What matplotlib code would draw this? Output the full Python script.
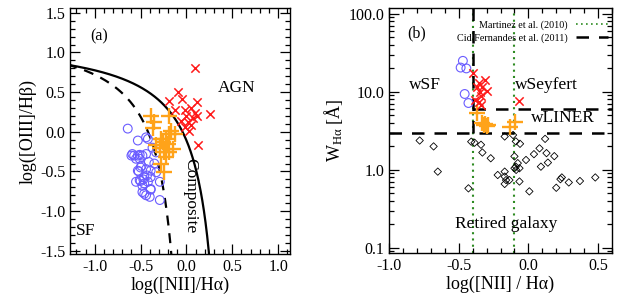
import matplotlib
matplotlib.use('Agg')
from matplotlib import pyplot as plt
from matplotlib.ticker import MultipleLocator, FixedLocator, FuncFormatter, LogLocator, NullFormatter
import numpy as np

plt.rcParams['font.family'] = ['Liberation Serif', 'DejaVu Serif']
plt.rcParams['mathtext.fontset'] = 'custom'
plt.rcParams['mathtext.rm'] = 'Liberation Serif'
plt.rcParams['mathtext.it'] = 'Liberation Serif:italic'

# ---- panel (a): BPT diagram ----
agn_n2 = [0.09, -0.09, -0.19, -0.05, -0.13, -0.02, 0.05, 0.11, 0.0, 0.07, 0.12, -0.06,
          0.02, -0.02, 0.05, 0.26, 0.13, 0.09, 0.03]
agn_o3 = [0.81, 0.50, 0.39, 0.41, 0.28, 0.28, 0.30, 0.37, 0.20, 0.18, 0.20, 0.14,
          0.12, 0.06, 0.08, 0.22, -0.17, 0.24, 0.01]

comp_n2 = [-0.39, -0.19, -0.35, -0.37, -0.17, -0.19, -0.13, -0.28, -0.22, -0.26, -0.20,
           -0.29, -0.15, -0.24, -0.19, -0.22, -0.28, -0.24, -0.33]
comp_o3 = [0.20, 0.20, 0.12, 0.05, 0.01, -0.03, -0.03, -0.09, -0.09, -0.13, -0.15,
           -0.20, -0.22, -0.26, -0.26, -0.32, -0.40, -0.51, -0.17]

sf_n2 = [-0.64, -0.53, -0.42, -0.37, -0.59, -0.53, -0.48, -0.51, -0.44, -0.41, -0.33,
         -0.49, -0.44, -0.39, -0.53, -0.33, -0.46, -0.39, -0.51, -0.42, -0.48, -0.29,
         -0.46, -0.39, -0.29, -0.40, -0.44, -0.51, -0.60, -0.55, -0.50, -0.55, -0.46,
         -0.48, -0.39, -0.44, -0.52, -0.35, -0.47, -0.50, -0.43, -0.57]
sf_o3 = [0.04, -0.11, -0.09, -0.20, -0.28, -0.30, -0.30, -0.34, -0.28, -0.38, -0.26,
         -0.43, -0.47, -0.49, -0.49, -0.51, -0.57, -0.57, -0.61, -0.63, -0.68, -0.63,
         -0.78, -0.72, -0.86, -0.82, -0.07, -0.29, -0.30, -0.34, -0.45, -0.63, -0.65,
         -0.76, -0.73, -0.80, -0.50, -0.40, -0.60, -0.62, -0.55, -0.30]

# demarcation lines: log([OIII]/Hb) = a / (log([NII]/Ha) - b) + c
kewley_abc = (0.61, 0.47, 1.19)
kauffmann_abc = (0.61, 0.05, 1.30)

# ---- panel (b): WHAN diagram ----
wsf_n2 = [-0.47, -0.486, -0.445, -0.457, -0.43]
wsf_w = [25.0, 20.5, 20.0, 9.4, 7.2]

wsey_n2 = [-0.40, -0.355, -0.31, -0.37, -0.33, -0.295, -0.35, -0.34, -0.38, -0.355,
           -0.34, -0.064]
wsey_w = [17.5, 13.1, 14.0, 11.7, 11.4, 10.4, 10.1, 8.9, 7.9, 7.5, 6.8, 7.6]

wlin_n2 = [-0.37, -0.335, -0.32, -0.31, -0.30, -0.29, -0.13, -0.095]
wlin_w = [5.3, 4.0, 3.8, 3.9, 3.7, 3.75, 3.5, 4.1]

ret_n2 = [-0.78, -0.68, -0.65, -0.43, -0.41, -0.386, -0.34, -0.33, -0.27, -0.22, -0.17,
          -0.17, -0.16, -0.17, -0.136, -0.17, -0.11, -0.09, -0.06, -0.10, -0.076, -0.088,
          -0.064, -0.064, 0.007, -0.017, 0.04, 0.08, 0.09, 0.12, 0.13, 0.14, 0.186, 0.20,
          0.24, 0.23, 0.29, 0.37, 0.48, -0.09, -0.10]
ret_w = [2.38, 2.0, 0.95, 0.58, 2.3, 2.23, 2.1, 1.67, 1.41, 0.86, 0.95, 0.82, 0.74, 0.66,
         0.74, 2.68, 2.8, 2.32, 2.16, 1.49, 1.22, 1.0, 1.05, 0.71, 0.53, 1.34, 1.59, 1.89,
         1.1, 2.5, 1.64, 1.24, 1.5, 0.59, 0.80, 0.76, 0.69, 0.72, 0.80, 1.1, 1.05]

martinez_cuts = [-0.4, -0.1]
cid_n2_cut = -0.4
cid_w_weak = 3.0
cid_w_strong = 6.0

red = '#ff1a1a'
orange = '#ffa31a'
blue = '#6a5cff'
green = '#2e8b22'


def style_axes(ax):
	ax.tick_params(which='both', direction='in', top=True, right=True, labelsize=11.5, width=0.9)
	ax.tick_params(which='major', length=7)
	ax.tick_params(which='minor', length=3.5)
	for s in ax.spines.values():
		s.set_linewidth(1.0)


fig = plt.figure(figsize=(6.38, 3.0), dpi=100)

# ---------------- (a) ----------------
ax1 = fig.add_axes([70/638, 46/300, 220/638, 246/300])
ax1.set_xlim(-1.27, 1.13)
ax1.set_ylim(-1.54, 1.56)

xk = np.linspace(-1.3, kewley_abc[1] - 0.01, 400)
a, b, c = kewley_abc
ax1.plot(xk, a / (xk - b) + c, color='black', lw=1.6)
xf = np.linspace(-1.3, kauffmann_abc[1] - 0.01, 400)
a, b, c = kauffmann_abc
ax1.plot(xf, a / (xf - b) + c, color='black', lw=1.6, ls=(0, (4.5, 3.5)))

ax1.scatter(sf_n2, sf_o3, s=40, facecolors='none', edgecolors=blue, linewidths=0.8, zorder=3)
ax1.scatter(comp_n2, comp_o3, s=140, marker='+', color=orange, linewidths=1.7, zorder=4)
ax1.scatter(agn_n2, agn_o3, s=36, marker='x', color=red, linewidths=1.1, zorder=5)

ax1.text(-1.05, 1.2, '(a)', fontsize=11.5, va='center')
ax1.text(0.55, 0.55, 'AGN', fontsize=12.5, ha='center', va='center')
ax1.text(-1.1, -1.25, 'SF', fontsize=12.5, ha='center', va='center')
ax1.text(0.04, -0.8, 'Composite', fontsize=12.5, rotation=-90, ha='center', va='center')

ax1.xaxis.set_major_locator(FixedLocator([-1.0, -0.5, 0.0, 0.5, 1.0]))
ax1.xaxis.set_minor_locator(MultipleLocator(0.1))
ax1.yaxis.set_major_locator(FixedLocator([-1.5, -1.0, -0.5, 0.0, 0.5, 1.0, 1.5]))
ax1.yaxis.set_minor_locator(MultipleLocator(0.1))
ax1.xaxis.set_major_formatter(FuncFormatter(lambda v, p: '%.1f' % v))
ax1.yaxis.set_major_formatter(FuncFormatter(lambda v, p: '%.1f' % v))
style_axes(ax1)
ax1.set_xlabel('log([NII]/H\u03b1)', fontsize=13, labelpad=1)
ax1.set_ylabel('log([OIII]/H\u03b2)', fontsize=13, labelpad=2)

# ---------------- (b) ----------------
ax2 = fig.add_axes([389/638, 47/300, 223/638, 245/300])
ax2.set_yscale('log')
ax2.set_xlim(-1.0, 0.6)
ax2.set_ylim(0.086, 119)

for xc in martinez_cuts:
	ax2.axvline(xc, color=green, lw=1.5, ls=(0, (1, 2)), zorder=1)
ax2.plot([], [], color=green, lw=1.2, ls=(0, (1, 2)), label='Martinez et al. (2010)')
ax2.vlines(cid_n2_cut, cid_w_weak, 119, color='black', lw=1.8, ls=(0, (5, 4)), zorder=2)
ax2.axhline(cid_w_weak, color='black', lw=1.8, ls=(0, (5, 4)), zorder=2)
ax2.hlines(cid_w_strong, cid_n2_cut, 0.6, color='black', lw=1.8, ls=(0, (5, 4)), zorder=2,
           label='Cid Fernandes et al. (2011)')

ax2.scatter(ret_n2, ret_w, s=14, marker='D', facecolors='none', edgecolors='black', linewidths=0.6, zorder=3)
ax2.scatter(wsf_n2, wsf_w, s=40, facecolors='none', edgecolors=blue, linewidths=0.8, zorder=3)
ax2.scatter(wlin_n2, wlin_w, s=140, marker='+', color=orange, linewidths=1.7, zorder=4)
ax2.scatter(wsey_n2, wsey_w, s=36, marker='x', color=red, linewidths=1.1, zorder=5)

ax2.text(-0.87, 57, '(b)', fontsize=11.5, va='center')
ax2.text(-0.74, 12.3, 'wSF', fontsize=12.5, ha='center', va='center')
ax2.text(0.13, 12.3, 'wSeyfert', fontsize=12.5, ha='center', va='center')
ax2.text(0.245, 4.6, 'wLINER', fontsize=12.5, ha='center', va='center')
ax2.text(-0.16, 0.2, 'Retired galaxy', fontsize=12.5, ha='center', va='center')

ax2.legend(loc='upper right', frameon=False, fontsize=7.3, markerfirst=False, handlelength=3.2,
           borderaxespad=0.2, labelspacing=0.3, bbox_to_anchor=(1.0, 0.965), borderpad=0.2)

ax2.xaxis.set_major_locator(FixedLocator([-1.0, -0.5, 0.0, 0.5]))
ax2.xaxis.set_minor_locator(MultipleLocator(0.1))
ax2.xaxis.set_major_formatter(FuncFormatter(lambda v, p: '%.1f' % v))
ax2.yaxis.set_major_locator(FixedLocator([0.1, 1.0, 10.0, 100.0]))
ax2.yaxis.set_minor_locator(LogLocator(base=10, subs=np.arange(2, 10)))
ax2.yaxis.set_major_formatter(FuncFormatter(lambda v, p: '%.1f' % v))
ax2.yaxis.set_minor_formatter(NullFormatter())
style_axes(ax2)
ax2.set_xlabel('log([NII] / H\u03b1)', fontsize=13, labelpad=1)
ax2.set_ylabel('W$_{\\mathrm{H\u03b1}}$ [Å]', fontsize=13, labelpad=2)

plt.savefig('out.png', dpi=100)
plt.close()
